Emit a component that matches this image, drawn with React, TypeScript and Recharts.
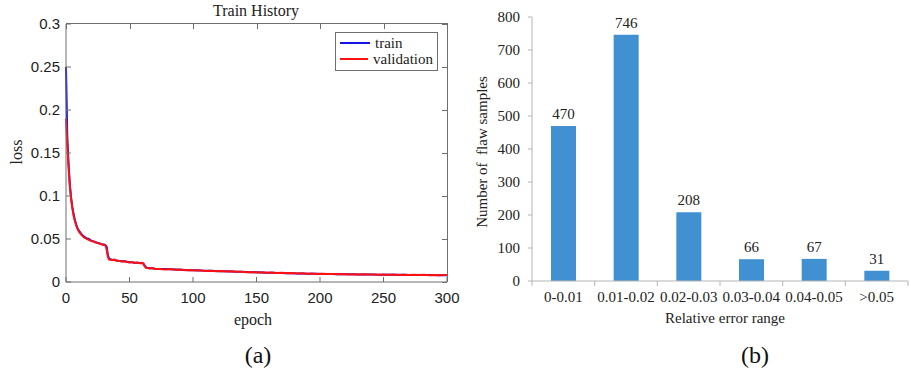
import {
  LineChart,
  Line,
  BarChart,
  Bar,
  LabelList,
  XAxis,
  YAxis,
  Legend,
} from "recharts";

// (a) training history
const epochs = [
  0, 1, 2, 3, 4, 5, 6, 7, 8, 9, 10, 12, 14, 16, 18, 20, 22, 24, 26, 28, 30, 31,
  32, 33, 34, 36, 38, 40, 42, 44, 46, 48, 50, 52, 54, 56, 58, 60, 61, 62, 63,
  64, 66, 68, 70, 74, 78, 82, 86, 90, 94, 98, 102, 106, 110, 114, 118, 122, 126,
  130, 134, 138, 142, 146, 150, 154, 158, 162, 166, 170, 174, 178, 182, 186,
  190, 194, 198, 202, 206, 210, 214, 218, 222, 226, 230, 234, 238, 242, 246,
  250, 254, 258, 262, 266, 270, 274, 278, 282, 286, 290, 294, 298, 300,
];

const trainLoss = [
  0.25, 0.17, 0.138, 0.114, 0.098, 0.087, 0.079, 0.072, 0.067, 0.063, 0.06,
  0.056, 0.053, 0.051, 0.05, 0.048, 0.047, 0.046, 0.045, 0.044, 0.0435, 0.043,
  0.041, 0.031, 0.027, 0.026, 0.0255, 0.025, 0.0245, 0.024, 0.024, 0.0235,
  0.023, 0.023, 0.0225, 0.0225, 0.022, 0.022, 0.0215, 0.019, 0.017, 0.0165,
  0.016, 0.016, 0.0155, 0.015, 0.015, 0.0148, 0.0145, 0.0143, 0.014, 0.0138,
  0.0137, 0.0133, 0.0131, 0.013, 0.0128, 0.0126, 0.0124, 0.0122, 0.012, 0.0118,
  0.0116, 0.0114, 0.0112, 0.011, 0.0109, 0.0107, 0.0106, 0.0104, 0.0103,
  0.0101, 0.01, 0.0098, 0.0097, 0.0096, 0.0095, 0.0094, 0.0093, 0.0092, 0.0091,
  0.009, 0.0089, 0.0089, 0.0088, 0.0087, 0.0087, 0.0086, 0.0085, 0.0085,
  0.0084, 0.0084, 0.0083, 0.0083, 0.0082, 0.0082, 0.0081, 0.0081, 0.008, 0.008,
  0.0079, 0.0079, 0.0079,
];

const valLoss = [
  0.19, 0.16, 0.134, 0.112, 0.097, 0.086, 0.077, 0.071, 0.066, 0.062, 0.059,
  0.055, 0.052, 0.0505, 0.049, 0.0475, 0.047, 0.0455, 0.045, 0.0438, 0.043,
  0.0425, 0.038, 0.029, 0.026, 0.0255, 0.026, 0.0248, 0.0245, 0.0238, 0.0242,
  0.0232, 0.0228, 0.0232, 0.0222, 0.0226, 0.0218, 0.0222, 0.021, 0.018, 0.0165,
  0.0162, 0.0158, 0.0162, 0.0152, 0.0152, 0.0146, 0.015, 0.0142, 0.0145,
  0.0138, 0.014, 0.0134, 0.0136, 0.0129, 0.0132, 0.0126, 0.0128, 0.0122,
  0.0125, 0.0118, 0.012, 0.0114, 0.0116, 0.0111, 0.0113, 0.0107, 0.011, 0.0104,
  0.0107, 0.0101, 0.0104, 0.0099, 0.0101, 0.0096, 0.0099, 0.0094, 0.0096,
  0.0092, 0.0094, 0.009, 0.0093, 0.0088, 0.0091, 0.0087, 0.0089, 0.0086,
  0.0088, 0.0084, 0.0087, 0.0083, 0.0086, 0.0082, 0.0085, 0.0081, 0.0084, 0.008,
  0.0083, 0.0079, 0.0082, 0.0079, 0.0081, 0.0082,
];

const epochMax = 300;
const lossMax = 0.3;
const epochTicks = [0, 50, 100, 150, 200, 250, 300];
const lossTicks = [0, 0.05, 0.1, 0.15, 0.2, 0.25, 0.3];

// (b) relative error histogram
const errorRanges = [
  "0-0.01",
  "0.01-0.02",
  "0.02-0.03",
  "0.03-0.04",
  "0.04-0.05",
  ">0.05",
];
const flawCounts = [470, 746, 208, 66, 67, 31];
const countTicks = [0, 100, 200, 300, 400, 500, 600, 700, 800];

const historyData = epochs.map((epoch, i) => ({
  epoch,
  train: trainLoss[i],
  validation: valLoss[i],
}));

const errorData = errorRanges.map((range, i) => ({
  range,
  count: flawCounts[i],
}));

const serif = "'Liberation Serif', 'Times New Roman', serif";
const sans = "'Liberation Sans', Arial, sans-serif";
const frame = "#6e6e6e";
const barAxis = "#b5b5b5";

// line chart box
const LINE_W = 460;
const LINE_H = 310;
const LINE_TOP = 24;
const LINE_RIGHT = 13;
const LINE_YAXIS = 66;
const LINE_XAXIS = 28;
const plotW = LINE_W - LINE_YAXIS - LINE_RIGHT;
const plotH = LINE_H - LINE_TOP - LINE_XAXIS;

const BAR_W = 451;
const BAR_LEFT = 72;
const BAR_RIGHT = 3;
const band = (BAR_W - BAR_LEFT - BAR_RIGHT) / errorRanges.length;

// matlab style box: top and right edges with inward ticks, drawn as plain divs
function BoxFrame() {
  const mark = (extra: any) => ({
    position: "absolute" as const,
    background: frame,
    ...extra,
  });
  return (
    <div
      style={{
        position: "absolute",
        left: LINE_YAXIS,
        top: LINE_TOP - 1,
        width: plotW,
        height: plotH + 1,
        zIndex: 20,
        pointerEvents: "none",
      }}
    >
      <div style={mark({ left: 0, top: 0, width: plotW + 1, height: 1 })} />
      <div style={mark({ left: plotW - 0.5, top: 0, width: 1, height: plotH + 1 })} />
      {epochTicks.map((t) => (
        <div
          key={"t" + t}
          style={mark({
            left: Math.round((plotW * t) / epochMax) - 0.5,
            top: 0,
            width: 1,
            height: 6,
          })}
        />
      ))}
      {lossTicks.map((v) => (
        <div
          key={"r" + v}
          style={mark({
            left: plotW - 5,
            top: Math.round(plotH - (plotH * v) / lossMax + 0.5),
            width: 5,
            height: 1,
          })}
        />
      ))}
    </div>
  );
}

function HistoryLegend({ payload }: any) {
  return (
    <div
      style={{
        border: `1px solid ${frame}`,
        background: "#fff",
        padding: "2px 4px 3px 4px",
        fontFamily: serif,
        fontSize: 15,
        color: "#222",
        lineHeight: "15px",
      }}
    >
      {(payload || []).map((item: any) => (
        <div
          key={item.value}
          style={{ display: "flex", alignItems: "center", height: 16 }}
        >
          <span
            style={{
              display: "inline-block",
              width: 30,
              height: 2,
              background: item.color,
              marginRight: 5,
            }}
          />
          {item.value}
        </div>
      ))}
    </div>
  );
}

// category label plus the tick marks that sit between the categories
function RangeTick({ x, y, payload, index }: any) {
  const last = index === errorRanges.length - 1;
  return (
    <g>
      <line x1={x - band / 2} x2={x - band / 2} y1={y} y2={y + 5} stroke={barAxis} />
      {last && (
        <line x1={x + band / 2} x2={x + band / 2} y1={y} y2={y + 5} stroke={barAxis} />
      )}
      <text
        x={x}
        y={y + 10}
        dy="0.71em"
        textAnchor="middle"
        fill="#222"
        fontSize={15}
        fontFamily={serif}
      >
        {payload.value}
      </text>
    </g>
  );
}

export default function App() {
  return (
    <div
      style={{
        position: "absolute",
        left: 0,
        top: 0,
        width: 911,
        height: 382,
        background: "#fff",
      }}
    >
      <div
        style={{
          position: "absolute",
          left: 213,
          top: 2,
          fontFamily: serif,
          fontSize: 16,
          color: "#222",
        }}
      >
        Train History
      </div>
      <div
        style={{
          position: "absolute",
          left: 17,
          top: 152,
          transform: "translate(-50%, -50%) rotate(-90deg)",
          fontFamily: serif,
          fontSize: 16,
          color: "#222",
        }}
      >
        loss
      </div>
      <div
        style={{
          position: "absolute",
          left: 253,
          top: 320,
          transform: "translate(-50%, -50%)",
          fontFamily: serif,
          fontSize: 16,
          color: "#222",
        }}
      >
        epoch
      </div>

      <div style={{ position: "absolute", left: 0, top: 0 }}>
        <LineChart
          width={LINE_W}
          height={LINE_H}
          data={historyData}
          margin={{ top: LINE_TOP, right: LINE_RIGHT, bottom: 0, left: 0 }}
        >
          <XAxis
            dataKey="epoch"
            type="number"
            domain={[0, epochMax]}
            ticks={epochTicks}
            height={LINE_XAXIS}
            stroke={frame}
            tickSize={-5}
            tickMargin={15}
            tick={{ fill: "#222", fontSize: 15, fontFamily: sans }}
          />
          <YAxis
            type="number"
            domain={[0, lossMax]}
            ticks={lossTicks}
            width={LINE_YAXIS}
            stroke={frame}
            tickSize={-5}
            tickMargin={11}
            tick={{ fill: "#222", fontSize: 15, fontFamily: sans }}
          />
          <Legend
            layout="vertical"
            align="center"
            verticalAlign="middle"
            content={<HistoryLegend />}
            wrapperStyle={{ left: 335, top: 32, width: 103 }}
          />
          <Line
            dataKey="train"
            name="train"
            type="linear"
            stroke="#1414e6"
            strokeWidth={2}
            dot={false}
            isAnimationActive={false}
          />
          <Line
            dataKey="validation"
            name="validation"
            type="linear"
            stroke="#ff1010"
            strokeWidth={2}
            dot={false}
            isAnimationActive={false}
          />
        </LineChart>
      </div>
      <BoxFrame />

      <div
        style={{
          position: "absolute",
          left: 482,
          top: 152,
          transform: "translate(-50%, -50%) rotate(-90deg)",
          fontFamily: serif,
          fontSize: 15,
          color: "#222",
          whiteSpace: "pre",
        }}
      >
        {"Number of  flaw samples"}
      </div>
      <div
        style={{
          position: "absolute",
          left: 725,
          top: 318,
          transform: "translate(-50%, -50%)",
          fontFamily: serif,
          fontSize: 15,
          color: "#222",
        }}
      >
        Relative error range
      </div>

      <div style={{ position: "absolute", left: 460, top: 0 }}>
        <BarChart
          width={BAR_W}
          height={340}
          data={errorData}
          margin={{ top: 17, right: BAR_RIGHT, bottom: 0, left: 0 }}
        >
          <XAxis
            dataKey="range"
            height={59}
            stroke={barAxis}
            tickLine={false}
            tickSize={0}
            tickMargin={0}
            interval={0}
            tick={<RangeTick />}
          />
          <YAxis
            type="number"
            domain={[0, 800]}
            ticks={countTicks}
            width={BAR_LEFT}
            stroke={barAxis}
            tickSize={4}
            tickMargin={8}
            tick={{ fill: "#222", fontSize: 15, fontFamily: serif }}
          />
          <Bar
            dataKey="count"
            fill="#4190d2"
            barSize={25}
            isAnimationActive={false}
          >
            <LabelList
              dataKey="count"
              position="top"
              offset={7}
              style={{ fill: "#222", fontSize: 15, fontFamily: serif }}
            />
          </Bar>
        </BarChart>
      </div>

      <div
        style={{
          position: "absolute",
          left: 258,
          top: 355,
          transform: "translate(-50%, -50%)",
          fontFamily: serif,
          fontSize: 24,
          color: "#111",
        }}
      >
        (a)
      </div>
      <div
        style={{
          position: "absolute",
          left: 755,
          top: 355,
          transform: "translate(-50%, -50%)",
          fontFamily: serif,
          fontSize: 24,
          color: "#111",
        }}
      >
        (b)
      </div>
    </div>
  );
}
